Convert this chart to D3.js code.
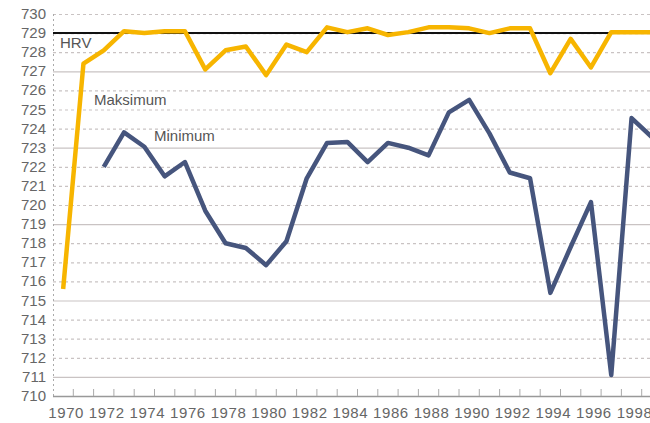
<!DOCTYPE html>
<html>
<head>
<meta charset="utf-8">
<script src="https://cdn.jsdelivr.net/npm/d3@7"></script>
<style>
  body { margin: 0; background: #fff; }
  text { font-family: "Liberation Sans", Arial, sans-serif; }
</style>
</head>
<body>
<div id="chart"></div>
<script>
var years = d3.range(1970, 2000);
var yTicks = d3.range(710, 731);
var hrvLevel = 729;

// Maksimum, 1970-1999
var maksimum = [715.6, 727.4, 728.1, 729.1, 729.0, 729.1, 729.1, 727.1, 728.1, 728.3,
    726.8, 728.4, 728.0, 729.3, 729.05, 729.25, 728.9, 729.05, 729.3, 729.3,
    729.25, 729.0, 729.25, 729.25, 726.9, 728.7, 727.2, 729.05, 729.05, 729.05];

// Minimum, 1972-1999
var minimumYears = d3.range(1972, 2000);
var minimum = [722.0, 723.8, 723.05, 721.5, 722.25, 719.7, 718.0, 717.75,
    716.85, 718.1, 721.4, 723.25, 723.3, 722.25, 723.25, 723.0, 722.6, 724.85,
    725.5, 723.75, 721.7, 721.4, 715.4, 717.8, 720.15, 711.1, 724.55, 723.55];

var width = 650, height = 423;
var margin = { top: 14, left: 53, bottom: 27 };

var svg = d3.select("#chart")
    .append("svg")
    .attr("width", width)
    .attr("height", height);

var x = d3.scaleBand()
    .domain(years)
    .range([margin.left, margin.left + years.length * 20.3])
    .padding(0);

var y = d3.scaleLinear()
    .domain([710, 730])
    .range([height - margin.bottom, margin.top]);

function cx(yr) { return x(yr) + x.bandwidth() / 2; }

// grid
svg.append("g")
    .selectAll("line")
    .data(yTicks.filter(function(d) { return d > 710; }))
    .enter()
    .append("line")
    .attr("x1", margin.left)
    .attr("x2", width)
    .attr("y1", function(d) { return y(d) + 0.5; })
    .attr("y2", function(d) { return y(d) + 0.5; })
    .attr("stroke", "#c9c3c3")
    .attr("stroke-width", 1.2)
    .attr("stroke-dasharray", function(d) { return d % 4 === 3 ? null : "3,3"; });

// left axis (dotted)
svg.append("line")
    .attr("x1", margin.left + 0.5)
    .attr("x2", margin.left + 0.5)
    .attr("y1", y(730))
    .attr("y2", y(710))
    .attr("stroke", "#aaa")
    .attr("stroke-dasharray", "2,3");

// bottom axis
svg.append("line")
    .attr("x1", margin.left)
    .attr("x2", width)
    .attr("y1", y(710) + 0.5)
    .attr("y2", y(710) + 0.5)
    .attr("stroke", "#999")
    .attr("stroke-width", 1.5);

// category ticks at boundaries
svg.append("g")
    .selectAll("line")
    .data(years)
    .enter()
    .append("line")
    .attr("x1", function(d) { return x(d) + x.bandwidth(); })
    .attr("x2", function(d) { return x(d) + x.bandwidth(); })
    .attr("y1", y(710) - 7)
    .attr("y2", y(710))
    .attr("stroke", "#aaa");

// y labels
svg.append("g")
    .selectAll("text")
    .data(yTicks)
    .enter()
    .append("text")
    .attr("x", 46)
    .attr("y", function(d) { return y(d) + 5; })
    .attr("text-anchor", "end")
    .style("font-size", "15px")
    .attr("fill", "#666")
    .text(function(d) { return d; });

// x labels
svg.append("g")
    .selectAll("text")
    .data(years.filter(function(d) { return d % 2 === 0; }))
    .enter()
    .append("text")
    .attr("x", function(d) { return cx(d) + 3; })
    .attr("y", 418)
    .attr("text-anchor", "middle")
    .style("font-size", "15px")
    .style("letter-spacing", "0.6px")
    .attr("fill", "#666")
    .text(function(d) { return d; });

// HRV line
svg.append("line")
    .attr("x1", margin.left)
    .attr("x2", width)
    .attr("y1", y(hrvLevel))
    .attr("y2", y(hrvLevel))
    .attr("stroke", "#111")
    .attr("stroke-width", 2);

var line = d3.line()
    .x(function(d) { return cx(d[0]); })
    .y(function(d) { return y(d[1]); });

svg.append("path")
    .datum(years.map(function(yr, i) { return [yr, maksimum[i]]; }))
    .attr("d", line)
    .attr("fill", "none")
    .attr("stroke", "#f7b500")
    .attr("stroke-width", 4.5)
    .attr("stroke-linejoin", "round");

svg.append("path")
    .datum(minimumYears.map(function(yr, i) { return [yr, minimum[i]]; }))
    .attr("d", line)
    .attr("fill", "none")
    .attr("stroke", "#46557d")
    .attr("stroke-width", 4.5)
    .attr("stroke-linejoin", "round");

// labels
svg.append("text").attr("x", 60).attr("y", 48).style("font-size", "15px").attr("fill", "#555").text("HRV");
svg.append("text").attr("x", 94).attr("y", 105).style("font-size", "15px").attr("fill", "#555").text("Maksimum");
svg.append("text").attr("x", 154).attr("y", 141).style("font-size", "15px").attr("fill", "#555").text("Minimum");
</script>
</body>
</html>
